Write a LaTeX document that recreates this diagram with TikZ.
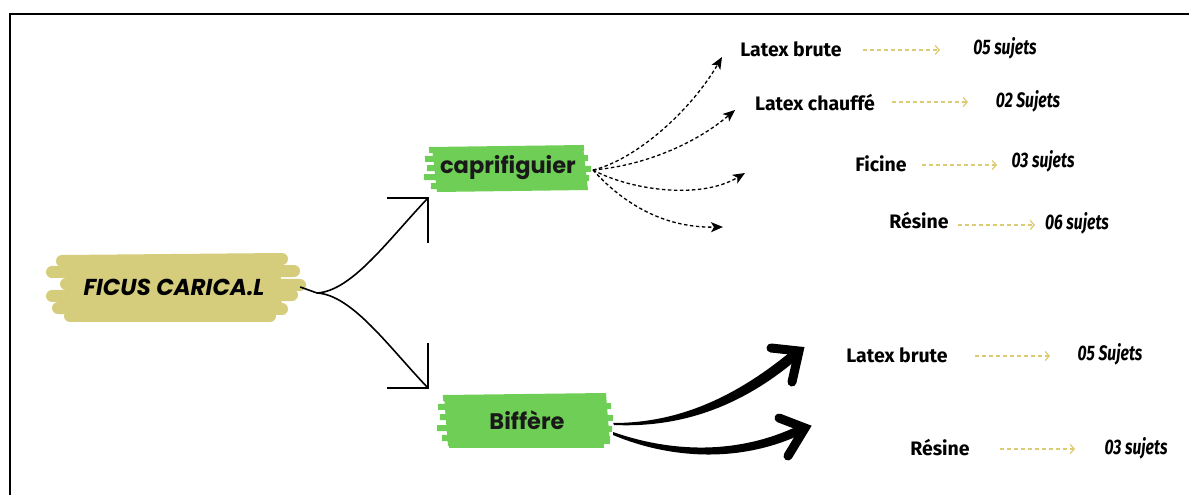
\documentclass[tikz,border=0pt]{standalone}
\usepackage{fontspec}
\usetikzlibrary{arrows.meta}
\newfontfamily\popfont{Poppins}
\newfontfamily\firafont{Fira Sans}
\definecolor{olivebrush}{HTML}{D5CC7C}
\definecolor{greenbrush}{HTML}{6FCE55}
\definecolor{goldline}{HTML}{DCCB72}
\tikzset{
  titletext/.style={font=\popfont\bfseries\itshape\fontsize{23}{23}\selectfont, text=black, minimum width=252, inner sep=0},
  greentext/.style={font=\popfont\bfseries\fontsize{22.5}{22.5}\selectfont, text=black!90, inner sep=0},
  itemtext/.style={font=\firafont\bfseries\fontsize{19.5}{19.5}\selectfont, inner sep=0},
  counttext/.style={font=\firafont\bfseries\itshape\fontsize{21}{21}\selectfont, inner sep=0},
  yarrow/.style={draw=goldline, line width=1.2, dash pattern=on 4 off 3, -{Straight Barb[length=4,width=9,line width=1.2]}},
  darrow/.style={draw=black, line width=1.3, dash pattern=on 3.5 off 2.5, -{Stealth[length=12,width=10,inset=3]}},
  yline/.style={draw=black, line width=1.6},
  brusho/.style={draw=olivebrush, line width=12, line cap=round},
  brushg/.style={draw=greenbrush, line width=6, line cap=butt},
  thickarm/.style={draw=black, line width=9, line cap=round},
}
\newcommand{\cnt}[1]{\scalebox{0.75}[1]{#1}}
\begin{document}
\begin{tikzpicture}[x=1pt,y=-1pt]
\useasboundingbox (0,0) rectangle (1189,495);
\fill[white] (0,0) rectangle (1189,495);
\draw[line width=2.5] (10,495) -- (10,14) -- (1189,14);

% olive brush
\fill[olivebrush] (70,258) -- (280,256) -- (282,314) -- (72,316) -- cycle;
\draw[brusho] (62,261) -- (282,259);
\draw[brusho] (52,272) -- (294,271);
\draw[brusho] (66,284) -- (300,285);
\draw[brusho] (52,296) -- (292,295);
\draw[brusho] (58,308) -- (282,309);
\draw[brusho] (70,316) -- (270,316);
% green brushes
\fill[greenbrush] (432,148) -- (583,146) -- (588,190) -- (437,192) -- cycle;
\draw[brushg] (429,150) -- (584,148);
\draw[brushg] (425,159) -- (588,158);
\draw[brushg] (427,168) -- (591,169);
\draw[brushg] (424,177) -- (589,178);
\draw[brushg] (431,186) -- (586,187);
\fill[greenbrush] (444,396) -- (606,394) -- (610,444) -- (448,446) -- cycle;
\draw[brushg] (443,398) -- (606,396);
\draw[brushg] (438,407) -- (611,406);
\draw[brushg] (440,417) -- (613,418);
\draw[brushg] (437,428) -- (612,429);
\draw[brushg] (442,438) -- (610,439);
\draw[brushg] (449,445) -- (604,445);

\node[titletext] (ficus) at (174,287) {FICUS CARICA.L};
\node[greentext, minimum width=165] (capri) at (508,168) {caprifiguier};
\node[greentext, minimum width=172] (biff) at (527,420) {Biffère};

% Y connector
\coordinate (j) at (317,293);
\coordinate (cu) at (428,198);
\coordinate (cl) at (428,388);
\draw[yline] (ficus.east) -- (j);
\draw[yline] (j) .. controls (352,291) and (388,240) .. (cu);
\draw[yline] (j) .. controls (352,295) and (388,346) .. (cl);
\draw[yline] (387,198) -- (cu) -- (428,243);
\draw[yline] (428,343) -- (cl) -- (387,388);

% dashed black arrows
\coordinate (cs) at (593,170);
\coordinate (t1) at (722,57);
\coordinate (t2) at (735,110);
\coordinate (t3) at (745,173);
\coordinate (t4) at (723,227);
\draw[darrow] (cs) .. controls (635,160) and (690,112) .. (t1);
\draw[darrow] (cs) .. controls (650,165) and (700,140) .. (t2);
\draw[darrow] (cs) .. controls (630,190) and (700,200) .. (t3);
\draw[darrow] (cs) .. controls (620,200) and (660,228) .. (t4);

% right texts
\node[itemtext] (lb1) at (791,49) {Latex brute};
\node[itemtext] (lc) at (815,103) {Latex chauffé};
\node[itemtext] (fic) at (881,164) {Ficine};
\node[itemtext] (res1) at (919,221) {Résine};
\node[counttext] (n1) at (1005,48) {\cnt{05 sujets}};
\node[counttext] (n2) at (1028,101) {\cnt{02 Sujets}};
\node[counttext] (n3) at (1043,161) {\cnt{03 sujets}};
\node[counttext] (n4) at (1077,223) {\cnt{06 sujets}};
\draw[yarrow] (863,50) -- (940,50);
\draw[yarrow] (892,102) -- (968,102);
\draw[yarrow] (922,165) -- (997,165);
\draw[yarrow] (958,225) -- (1035,225);

\node[itemtext] (lb2) at (897,355) {Latex brute};
\node[itemtext] (res2) at (940,448) {Résine};
\node[counttext] (n5) at (1110,354) {\cnt{05 Sujets}};
\node[counttext] (n6) at (1136,448) {\cnt{03 sujets}};
\draw[yarrow] (975,356) -- (1050,356);
\draw[yarrow] (1000,449) -- (1075,449);

% thick brush arrows from Biffere
\coordinate (bt1) at (799,351);
\coordinate (bt2) at (805,428);
\fill[black] (biff.east) ++(0,3) .. controls (680,423) and (738,396) .. (795,348)
  -- (802,355) .. controls (744,406) and (682,428) .. (614,425) -- cycle;
\draw[thickarm] (771,348) -- (bt1) -- (792,382);
\fill[black] (613,432) .. controls (670,452) and (738,456) .. (802,424)
  -- (806,432) .. controls (742,464) and (670,459) .. (613,435) -- cycle;
\draw[thickarm] (779,418) -- (bt2) -- (788,456);
\end{tikzpicture}
\end{document}
